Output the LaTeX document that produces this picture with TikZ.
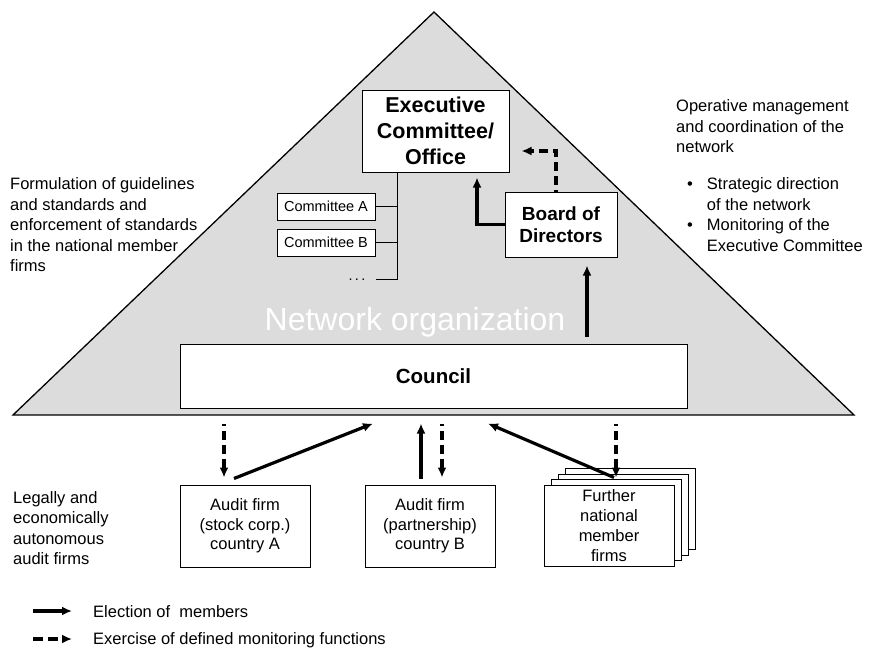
\documentclass[tikz,border=0pt]{standalone}
\usepackage{fontspec}
\setmainfont{Liberation Sans}
\usetikzlibrary{arrows.meta, calc}

\definecolor{pyramid}{RGB}{220,220,220}

\tikzset{
  box/.style     = {draw, fill=white, line width=1pt, align=center, inner sep=0pt},
  txt/.style     = {inner sep=0pt, align=left, font=\fontsize{16.5}{20.5}\selectfont},
  elect/.style   = {line width=3.2pt, -{Latex[length=10pt,width=9pt]}},
  monitor/.style = {line width=3.2pt, dash pattern=on 9pt off 5pt, dash phase=7pt, -{Latex[length=10pt,width=9pt]}},
}

\begin{document}
\begin{tikzpicture}[x=1pt, y=-1pt]
  \useasboundingbox (0,0) rectangle (870,651);

  \draw[line width=1.3pt, fill=pyramid] (13,415) -- (434,12) -- (854,415) -- cycle;
  \node[text=white, inner sep=0pt, font=\fontsize{32}{36}\selectfont] (netorg) at (415,322) {Network organization};

  \node[box, minimum width=147pt, minimum height=82pt, font=\fontsize{21.5}{26}\selectfont\bfseries]
                           (exec)    at (435.5,131) {Executive\\Committee/\\Office};
  \node[box, minimum width=112pt, minimum height=65pt, font=\fontsize{19}{22}\selectfont\bfseries]
                           (board)   at (561,224.5) {Board of\\Directors};
  \node[box, minimum width=507pt, minimum height=64pt, font=\fontsize{20.5}{24}\selectfont\bfseries]
                           (council) at (433.5,376) {Council};

  \foreach \y/\lettre in {206.5/A, 242.5/B} {
    \node[box, minimum width=98pt, minimum height=27pt, font=\fontsize{14.5}{17}\selectfont]
                           (com\lettre) at (326,\y) {Committee \lettre};
  }
  \node[inner sep=0pt, font=\fontsize{14.5}{17}\selectfont] (dots) at (357,280) {.\,.\,.};
  \coordinate (trunk) at (397,279);
  \draw[line width=1pt] (exec.south -| trunk) -- (trunk) -- (trunk -| comA.east);
  \draw[line width=1pt] (comA.east) -- (comA.east -| trunk);
  \draw[line width=1pt] (comB.east) -- (comB.east -| trunk);

  \foreach \x/\name/\firm in {245/firmA/{Audit firm\\(stock corp.)\\country A}, 430/firmB/{Audit firm\\(partnership)\\country B}} {
    \node[box, minimum width=130pt, minimum height=82pt, font=\fontsize{16.5}{19.5}\selectfont]
                           (\name) at (\x,526) {\firm};
  }
  \foreach \i in {3,2,1} {
    \draw[line width=1pt, fill=white] (544+7*\i,485-5.5*\i) rectangle (674+7*\i,566-5.5*\i);
  }
  \node[box, minimum width=130pt, minimum height=81pt, font=\fontsize{16.5}{20}\selectfont]
                           (firmC)   at (609,525.5) {Further\\national\\member\\firms};

  \draw[elect]   (board.west) -| ($(exec.south)+(41.5,5)$);
  \draw[monitor] ($(board.north)+(-5,0)$) |- ($(exec.east)+(12,20)$);
  \draw[elect]   ($(council.north -| board.south)+(26,-7)$) -- ($(board.south)+(26,8)$);

  \draw[monitor] ($(council.south -| firmA.north)+(-21,15)$) -- ($(firmA.north)+(-21,-7)$);
  \draw[elect]   ($(firmA.north)+(-11,-6)$) -- ($(council.south)+(-60.5,15)$);
  \draw[elect]   ($(firmB.north)+(-9,-6)$) -- ($(council.south -| firmB.north)+(-9,15)$);
  \draw[monitor] ($(council.south -| firmB.north)+(12,15)$) -- ($(firmB.north)+(12,-7)$);
  \draw[elect]   ($(firmC.north)+(5,-7)$) -- ($(council.south)+(54.5,15)$);
  \draw[monitor] ($(council.south -| firmC.north)+(7,15)$) -- ($(firmC.north)+(7,-7)$);

  \node[txt, anchor=west] (formul)    at (10,225)   {Formulation of guidelines\\and standards and\\enforcement of standards\\in the national member\\firms};
  \node[txt, anchor=west] (operative) at (676,126.5) {Operative management\\and coordination of the\\network};
  \node[txt, anchor=west] (tasks)     at (687,216.5) {\begin{tabular}{@{}l@{\hspace{14pt}}l@{}}
      \textbullet & Strategic direction\\
                  & of the network\\
      \textbullet & Monitoring of the\\
                  & Executive Committee
    \end{tabular}};
  \node[txt, anchor=west] (legally)   at (13,528)   {Legally and\\economically\\autonomous\\audit firms};

  \node[txt, anchor=west] (legElect)   at (93,612) {Election of\ \ members};
  \node[txt, anchor=west] (legMonitor) at (93,640) {Exercise of defined monitoring functions};
  \draw[elect]   ($(legElect.west)+(-60,-1)$) -- ($(legElect.west)+(-21,-1)$);
  \draw[monitor, dash pattern=on 10pt off 5pt, dash phase=0pt] ($(legMonitor.west)+(-60,-1)$) -- ($(legMonitor.west)+(-21,-1)$);
\end{tikzpicture}
\end{document}
